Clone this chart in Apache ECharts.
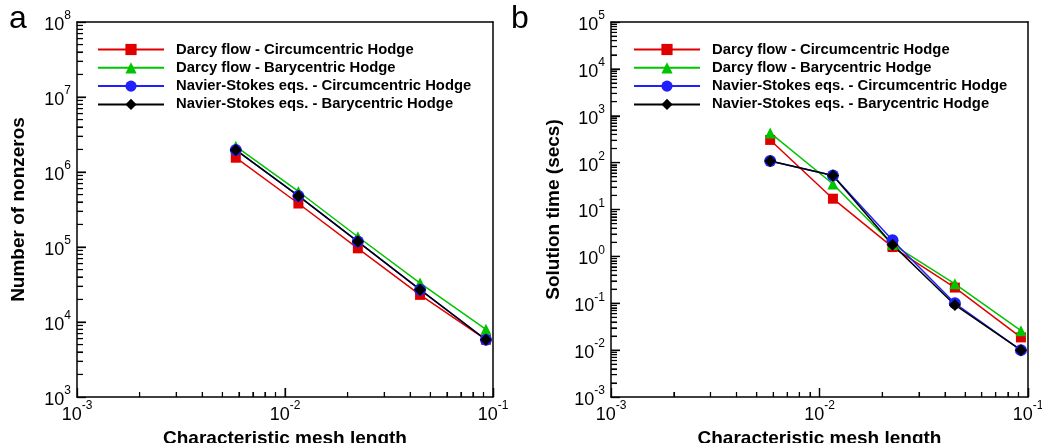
<!DOCTYPE html>
<html><head><meta charset="utf-8">
<script src="https://cdn.jsdelivr.net/npm/echarts@6/dist/echarts.min.js"></script>
<style>html,body{margin:0;padding:0;background:#fff}#c{width:1042px;height:443px}</style>
</head><body><div id="c"></div>
<script>
// ---- data ----
const meshLength = [0.0058, 0.0116, 0.0224, 0.0446, 0.0925];
const seriesNames = [
  'Darcy flow - Circumcentric Hodge',
  'Darcy flow - Barycentric Hodge',
  'Navier-Stokes eqs. - Circumcentric Hodge',
  'Navier-Stokes eqs. - Barycentric Hodge'
];
const nnzDarcyCirc = [1.55e6, 3.8e5, 9.6e4, 2.3e4, 5.8e3];
const nnzDarcyBary = [2.2e6, 5.5e5, 1.37e5, 3.3e4, 8.0e3];
const nnzNSCirc    = [1.97e6, 4.8e5, 1.18e5, 2.7e4, 5.8e3];
const nnzNSBary    = [1.97e6, 4.8e5, 1.18e5, 2.7e4, 5.8e3];
const timeDarcyCirc = [305, 17, 1.58, 0.216, 0.0187];
const timeDarcyBary = [430, 35, 1.8, 0.26, 0.026];
const timeNSCirc    = [108, 53, 2.2, 0.1, 0.01];
const timeNSBary    = [108, 53, 1.78, 0.092, 0.01];
const xRange = [1e-3, 1e-1];
const nnzRange = [1e3, 1e8];
const timeRange = [1e-3, 1e5];
const panelLabels = ['a', 'b'];
const yTitles = ['Number of nonzeros', 'Solution time (secs)'];
const xTitle = 'Characteristic mesh length';

// ---- styles ----
const styles = [
  {color: '#e00000', symbol: 'rect', size: 10},
  {color: '#00c400', symbol: 'triangle', size: 11},
  {color: '#2020ff', symbol: 'circle', size: 12},
  {color: '#000000', symbol: 'diamond', size: 12}
];
const FONT = 'Liberation Sans';

function decadeValues(lo, hi, ks) {
  const out = [];
  const e0 = Math.round(Math.log10(lo)), e1 = Math.round(Math.log10(hi));
  for (let e = e0; e < e1; e++) ks.forEach(k => out.push(k * Math.pow(10, e)));
  return out;
}
const MINOR_K = [2, 3, 4, 5, 6, 7, 8, 9];
const MAJOR_K = [1];

const labelFmt = v => '{b|10}{s|' + Math.round(Math.log10(v)) + '}';
const mkRich = () => ({
  b: {fontSize: 18, fontFamily: FONT, color: '#000', lineHeight: 24, verticalAlign: 'bottom'},
  s: {fontSize: 12, fontFamily: FONT, color: '#000', lineHeight: 13, verticalAlign: 'top'}
});

const grids = [
  {left: 77, right: 549, top: 22, bottom: 46, outerBoundsMode: 'none', containLabel: false},
  {left: 611, right: 14, top: 22, bottom: 46, outerBoundsMode: 'none', containLabel: false}
];
const yRanges = [nnzRange, timeRange];
const frameLine = () => ({show: true, onZero: false, lineStyle: {color: '#000', width: 1.5}});
const majorTick = () => ({show: true, inside: true, length: 9, lineStyle: {color: '#000', width: 1.3}});
const minorTick = len => ({show: true, splitNumber: 9, length: len, lineStyle: {color: '#000', width: 1.1}});

const xAxes = grids.map((g, i) => ({
  type: 'log', logBase: 10, gridIndex: i, position: 'bottom', min: xRange[0], max: xRange[1], interval: 1,
  name: xTitle, nameLocation: 'middle', nameGap: 28,
  nameTextStyle: {fontSize: 19, fontWeight: 'bold', fontFamily: FONT, color: '#000'},
  axisLine: frameLine(), axisTick: majorTick(), minorTick: minorTick(5),
  axisLabel: {formatter: labelFmt, rich: mkRich(), margin: 3, showMinLabel: true, showMaxLabel: true},
  splitLine: {show: false}
})).concat(grids.map((g, i) => ({
  type: 'log', gridIndex: i, position: 'top', min: xRange[0], max: xRange[1], interval: 1,
  axisLine: frameLine(), axisTick: {show: false}, axisLabel: {show: false}, splitLine: {show: false}
})));

const yAxes = grids.map((g, i) => ({
  type: 'log', logBase: 10, gridIndex: i, position: 'left', min: yRanges[i][0], max: yRanges[i][1], interval: 1,
  name: yTitles[i], nameLocation: 'middle', nameGap: i === 0 ? 49 : 48, nameRotate: 90,
  nameTextStyle: {fontSize: 19, fontWeight: 'bold', fontFamily: FONT, color: '#000'},
  axisLine: frameLine(), axisTick: majorTick(), minorTick: minorTick(6),
  axisLabel: {formatter: labelFmt, rich: mkRich(), margin: 6, showMinLabel: true, showMaxLabel: true},
  splitLine: {show: false}
})).concat(grids.map((g, i) => ({
  type: 'log', gridIndex: i, position: 'right', min: yRanges[i][0], max: yRanges[i][1], interval: 1,
  axisLine: frameLine(), axisTick: {show: false}, axisLabel: {show: false}, splitLine: {show: false}
})));

const panelData = [
  [nnzDarcyCirc, nnzDarcyBary, nnzNSCirc, nnzNSBary],
  [timeDarcyCirc, timeDarcyBary, timeNSCirc, timeNSBary]
];

function tickSeries(p, values, onX, len) {
  return {
    type: 'scatter', xAxisIndex: p, yAxisIndex: p, silent: true, clip: false, animation: false,
    data: values.map(v => onX ? [v, yRanges[p][0]] : [xRange[0], v]),
    symbol: 'rect',
    symbolSize: onX ? [1.2, len] : [len, 1.2],
    symbolOffset: onX ? [0, -len / 2] : [len / 2, 0],
    itemStyle: {color: '#000'}, emphasis: {disabled: true}, tooltip: {show: false}, z: 2
  };
}

const series = [];
panelData.forEach((arrs, p) => {
  series.push(tickSeries(p, decadeValues(xRange[0], xRange[1], MINOR_K), true, 5));
  series.push(tickSeries(p, decadeValues(xRange[0], xRange[1], MAJOR_K).slice(1), true, 9));
  series.push(tickSeries(p, decadeValues(yRanges[p][0], yRanges[p][1], MINOR_K), false, 6));
  series.push(tickSeries(p, decadeValues(yRanges[p][0], yRanges[p][1], MAJOR_K).slice(1), false, 9));
  arrs.forEach((vals, k) => {
    const st = styles[k];
    series.push({
      type: 'line', name: seriesNames[k], xAxisIndex: p, yAxisIndex: p,
      data: meshLength.map((x, j) => [x, vals[j]]),
      symbol: st.symbol, symbolSize: st.size, showSymbol: true,
      lineStyle: {color: st.color, width: 1.5},
      itemStyle: {color: st.color}, z: 3
    });
  });
});

const mkLegend = left => ({
  left: left, orient: 'vertical', top: 42, padding: 0, itemWidth: 66, itemHeight: 14, itemGap: 3.3,
  selectedMode: false, data: seriesNames.slice(),
  textStyle: {fontSize: 14.8, fontWeight: 'bold', fontFamily: FONT, color: '#000', lineHeight: 14, padding: [0, 0, 0, 7]}
});

const option = {
  backgroundColor: '#fff',
  animation: false,
  grid: grids,
  xAxis: xAxes,
  yAxis: yAxes,
  legend: [mkLegend(97), mkLegend(633)],
  graphic: [
    {type: 'text', left: 9, top: 3, style: {text: panelLabels[0], fontSize: 32, fontFamily: FONT, fill: '#000'}},
    {type: 'text', left: 511, top: 3, style: {text: panelLabels[1], fontSize: 32, fontFamily: FONT, fill: '#000'}}
  ],
  series: series
};
const chart = echarts.init(document.getElementById('c'));
chart.setOption(option);
</script></body></html>
